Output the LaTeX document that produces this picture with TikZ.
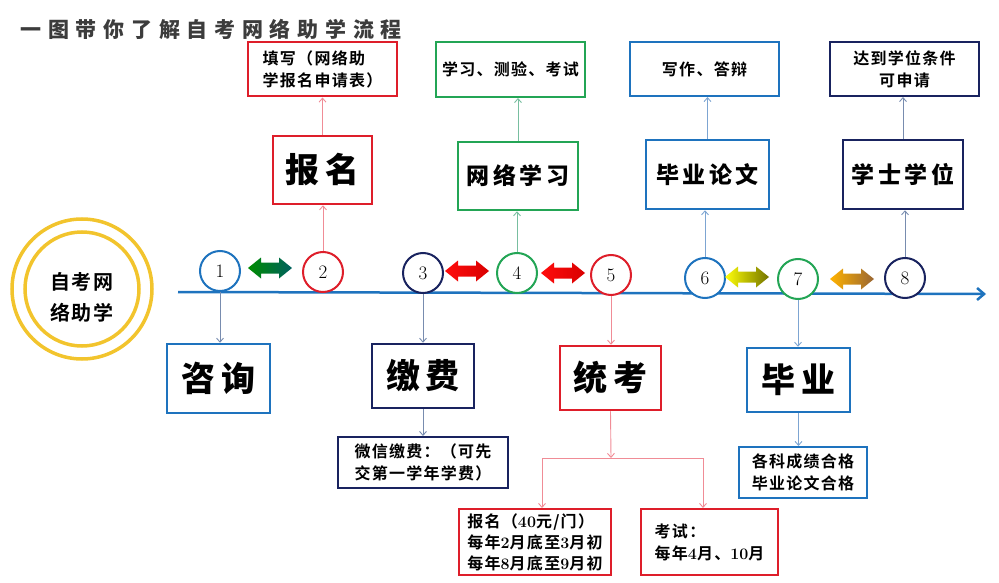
\documentclass[tikz,border=0pt]{standalone}
\usepackage{fontspec}
\newfontfamily\cjk{Noto Sans CJK SC}[BoldFont={Noto Sans CJK SC Bold}, LetterSpace=8]
\newfontfamily\cjkw{Noto Sans CJK SC}[BoldFont={Noto Sans CJK SC Black}, LetterSpace=15]
\newfontfamily\cjkt{Noto Sans CJK SC}[BoldFont={Noto Sans CJK SC Black}, LetterSpace=32]
\usetikzlibrary{arrows.meta}

\newcommand{\dg}[1]{{\rmfamily\bfseries #1}}

\begin{document}
\begin{tikzpicture}[x=1pt, y=-1pt,
    bigbox/.style={draw=#1, line width=2.5pt, fill=white, inner sep=0pt,
        font=\cjkw\bfseries\fontsize{34}{34}\selectfont},
    midbox/.style={draw=#1, line width=2.5pt, fill=white, inner sep=0pt,
        font=\cjkw\bfseries\fontsize{23}{23}\selectfont},
    smallbox/.style={draw=#1, line width=2pt, fill=white, inner sep=0pt,
        font=\cjk\bfseries\fontsize{16}{22}\selectfont},
    numc/.style={circle, draw=#1, line width=2pt, fill=white, inner sep=0pt,
        minimum size=40pt, font=\fontsize{19}{19}\selectfont},
    link/.style={draw=#1, line width=0.9pt, -{Straight Barb[length=4pt,width=7pt]}}]

    \definecolor{colBlue}{RGB}{30,115,190}
    \definecolor{colRed}{RGB}{222,30,42}
    \definecolor{colGreen}{RGB}{35,165,85}
    \definecolor{colNavy}{RGB}{25,35,95}
    \definecolor{colYellow}{RGB}{242,196,45}
    \definecolor{titleGray}{RGB}{60,60,60}
    \definecolor{lkRed}{RGB}{240,140,150}
    \definecolor{lkGreen}{RGB}{120,190,160}
    \definecolor{lkBlue}{RGB}{125,165,210}
    \definecolor{lkNavy}{RGB}{120,140,175}

    \newcommand{\dblarrow}[3]{
        \begin{scope}[shift={#1}]
            \shade[left color=#2, right color=#3]
                (-22,0) -- (-9,-10.5) -- (-9,-5.5) -- (9,-5.5) -- (9,-10.5) --
                (22,0) -- (9,10.5) -- (9,5.5) -- (-9,5.5) -- (-9,10.5) -- cycle;
        \end{scope}
    }

    \useasboundingbox (0,0) rectangle (999,583);

    % Title
    \node[anchor=west, text=titleGray, font=\cjkt\bfseries\fontsize{21}{21}\selectfont]
        (title) at (17,29) {一图带你了解自考网络助学流程};

    % Yellow rings
    \node[circle, draw=colYellow, line width=3.5pt, minimum size=140pt] (ringO) at (82,289) {};
    \node[circle, draw=colYellow, line width=3.5pt, minimum size=114pt] (ringI) at (82,289) {};
    \node[align=center, font=\cjk\bfseries\fontsize{20}{31}\selectfont] (hub) at (82,297) {自考网\\络助学};

    % Timeline
    \coordinate (tlA) at (178,292);
    \coordinate (tlB) at (986,294);
    \draw[colBlue, line width=2.5pt, -{Straight Barb[length=7pt,width=12pt]}] (tlA) -- (tlB);

    % Steps
    \foreach \n/\px/\py/\col in {1/220/271/colBlue, 2/323/272/colRed, 3/423/273/colNavy,
        4/517/273/colGreen, 5/611/275/colRed, 6/705/278/colBlue, 7/798/279/colGreen, 8/905/278/colNavy} {
        \node[numc=\col] (c\n) at (\px,\py) {\raisebox{-2pt}{\n}};
    }

    % Double arrows between steps
    \dblarrow{(270,268)}{green!55!black}{teal!75!black}
    \dblarrow{(467,271)}{red!95!white}{red!85!black}
    \dblarrow{(563,273)}{red!95!white}{red!85!black}
    \dblarrow{(747,277)}{yellow!95!white}{olive!90!black}
    \dblarrow{(852,279)}{orange!60!yellow}{brown!80!black}

    % Upper boxes
    \node[bigbox=colRed, minimum width=99pt, minimum height=68pt] (baoming) at (322.5,170) {报名};
    \node[smallbox=colRed, minimum width=149pt, minimum height=54pt, align=left]
        (tianxie) at (322.5,69.5) {填写（网络助\\学报名申请表）};
    \node[midbox=colGreen, minimum width=120pt, minimum height=68pt] (wangluo) at (518,176) {网络学习};
    \node[smallbox=colGreen, minimum width=149pt, minimum height=55pt] (xuexi) at (510.5,69.5) {学习、测验、考试};
    \node[midbox=colBlue, minimum width=123pt, minimum height=69pt] (lunwen) at (707.5,174.5) {毕业论文};
    \node[smallbox=colBlue, minimum width=149pt, minimum height=54pt] (xiezuo) at (704.5,69) {写作、答辩};
    \node[midbox=colNavy, minimum width=120pt, minimum height=69pt] (xuewei) at (903,174.5) {学士学位};
    \node[smallbox=colNavy, minimum width=149pt, minimum height=54pt, align=center]
        (dadao) at (904.5,69) {达到学位条件\\可申请};

    % Lower boxes
    \node[bigbox=colBlue, minimum width=103pt, minimum height=69pt] (zixun) at (218.5,378.5) {咨询};
    \node[bigbox=colNavy, minimum width=102pt, minimum height=64pt] (jiaofei) at (423,376) {缴费};
    \node[smallbox=colNavy, minimum width=170pt, minimum height=51pt, align=left]
        (weixin) at (423,462.5) {微信缴费：（可先\\交第一学年学费）};
    \node[bigbox=colRed, minimum width=101pt, minimum height=64pt] (tongkao) at (610.5,378) {统考};
    \node[smallbox=colRed, minimum width=152pt, minimum height=66pt, align=left,
        font=\cjk\bfseries\fontsize{16}{21}\selectfont]
        (bmfee) at (535,542) {报名（\dg{40}元/门）\\每年\dg{2}月底至\dg{3}月初\\每年\dg{8}月底至\dg{9}月初};
    \node[smallbox=colRed, minimum width=137pt, minimum height=66pt, align=left]
        (kaoshi) at (709.5,542) {考试：\\每年\dg{4}月、\dg{10}月};
    \node[bigbox=colBlue, minimum width=103pt, minimum height=64pt] (biye) at (798.5,380) {毕业};
    \node[smallbox=colBlue, minimum width=128pt, minimum height=51pt, align=center]
        (geke) at (803,472.5) {各科成绩合格\\毕业论文合格};

    % Connectors
    \draw[link=lkNavy] (c1.south) -- (c1.south |- zixun.north);
    \draw[link=lkRed] (c2.north) -- (c2.north |- baoming.south);
    \draw[link=lkRed] (baoming.north) -- (baoming.north |- tianxie.south);
    \draw[link=lkNavy] (c3.south) -- (c3.south |- jiaofei.north);
    \draw[link=lkNavy] (jiaofei.south) -- (jiaofei.south |- weixin.north);
    \draw[link=lkGreen] (c4.north) -- (c4.north |- wangluo.south);
    \draw[link=lkGreen] (wangluo.north) -- (wangluo.north |- xuexi.south);
    \draw[link=lkRed] (c5.south) -- (c5.south |- tongkao.north);
    \draw[link=lkBlue] (c6.north) -- (c6.north |- lunwen.south);
    \draw[link=lkBlue] (lunwen.north) -- (lunwen.north |- xiezuo.south);
    \draw[link=lkBlue] (c7.south) -- (c7.south |- biye.north);
    \draw[link=lkBlue] (biye.south) -- (biye.south |- geke.north);
    \draw[link=lkNavy] (c8.north) -- (c8.north |- xuewei.south);
    \draw[link=lkNavy] (xuewei.north) -- (xuewei.north |- dadao.south);

    % Fork under the exam box
    \coordinate (fk) at (611,458);
    \coordinate (fkL) at (542,458);
    \coordinate (fkR) at (703,458);
    \draw[link=lkRed] (tongkao.south) -- (fk);
    \draw[lkRed, line width=0.9pt] (fkL) -- (fkR);
    \draw[link=lkRed] (fkL) -- (fkL |- bmfee.north);
    \draw[link=lkRed] (fkR) -- (fkR |- kaoshi.north);
\end{tikzpicture}
\end{document}
